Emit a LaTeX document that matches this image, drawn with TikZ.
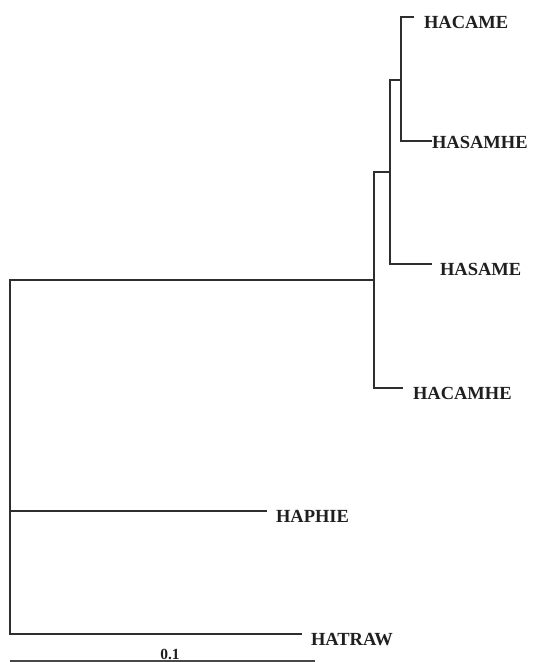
\documentclass[tikz,border=0pt]{standalone}
\usepackage{fontspec}
\newfontfamily\lblfont{Liberation Serif}
\begin{document}
\begin{tikzpicture}[x=1pt,y=-1pt,
  branch/.style={draw=black!82,line width=1.15pt},
  scalebar/.style={draw=black!72,line width=1.9pt},
  leaf/.style={anchor=base west,inner sep=0pt,outer sep=0pt,
    font=\lblfont\bfseries\fontsize{18.5}{18.5}\selectfont,text=black!88}]
  \useasboundingbox (0,0) rectangle (533,662);

  % internal nodes of the tree
  \coordinate (root) at (10,511);
  \coordinate (c1) at (374,280);
  \coordinate (c2) at (390,172);
  \coordinate (c3) at (401,80);

  % branch tips
  \coordinate (tHACAME)  at (414,17);
  \coordinate (tHASAMHE) at (432,141);
  \coordinate (tHASAME)  at (432,264);
  \coordinate (tHACAMHE) at (403,388);
  \coordinate (tHAPHIE)  at (267,511);
  \coordinate (tHATRAW)  at (302,634);

  % leaf labels
  \node[leaf] (HACAME)  at (424,28) {HACAME};
  \node[leaf] (HASAMHE) at (432,148.5) {HASAMHE};
  \node[leaf] (HASAME)  at (440,275.5) {HASAME};
  \node[leaf] (HACAMHE) at (413,399) {HACAMHE};
  \node[leaf] (HAPHIE)  at (276,522.5) {HAPHIE};
  \node[leaf] (HATRAW)  at (311,645.5) {HATRAW};

  % branches
  \draw[branch] (root) |- (c1);
  \draw[branch] (root) |- (tHATRAW);
  \draw[branch] (root) -- (tHAPHIE);
  \draw[branch] (c1) |- (c2);
  \draw[branch] (c1) |- (tHACAMHE);
  \draw[branch] (c2) |- (c3);
  \draw[branch] (c2) |- (tHASAME);
  \draw[branch] (c3) |- (tHACAME);
  \draw[branch] (c3) |- (tHASAMHE);

  % scale bar
  \coordinate (s0) at (10,661);
  \coordinate (s1) at (315,661);
  \draw[scalebar] (s0) -- (s1);
  \node[leaf,anchor=base,font=\lblfont\bfseries\fontsize{15.5}{15.5}\selectfont] (scale) at (170,659) {0.1};
\end{tikzpicture}
\end{document}
